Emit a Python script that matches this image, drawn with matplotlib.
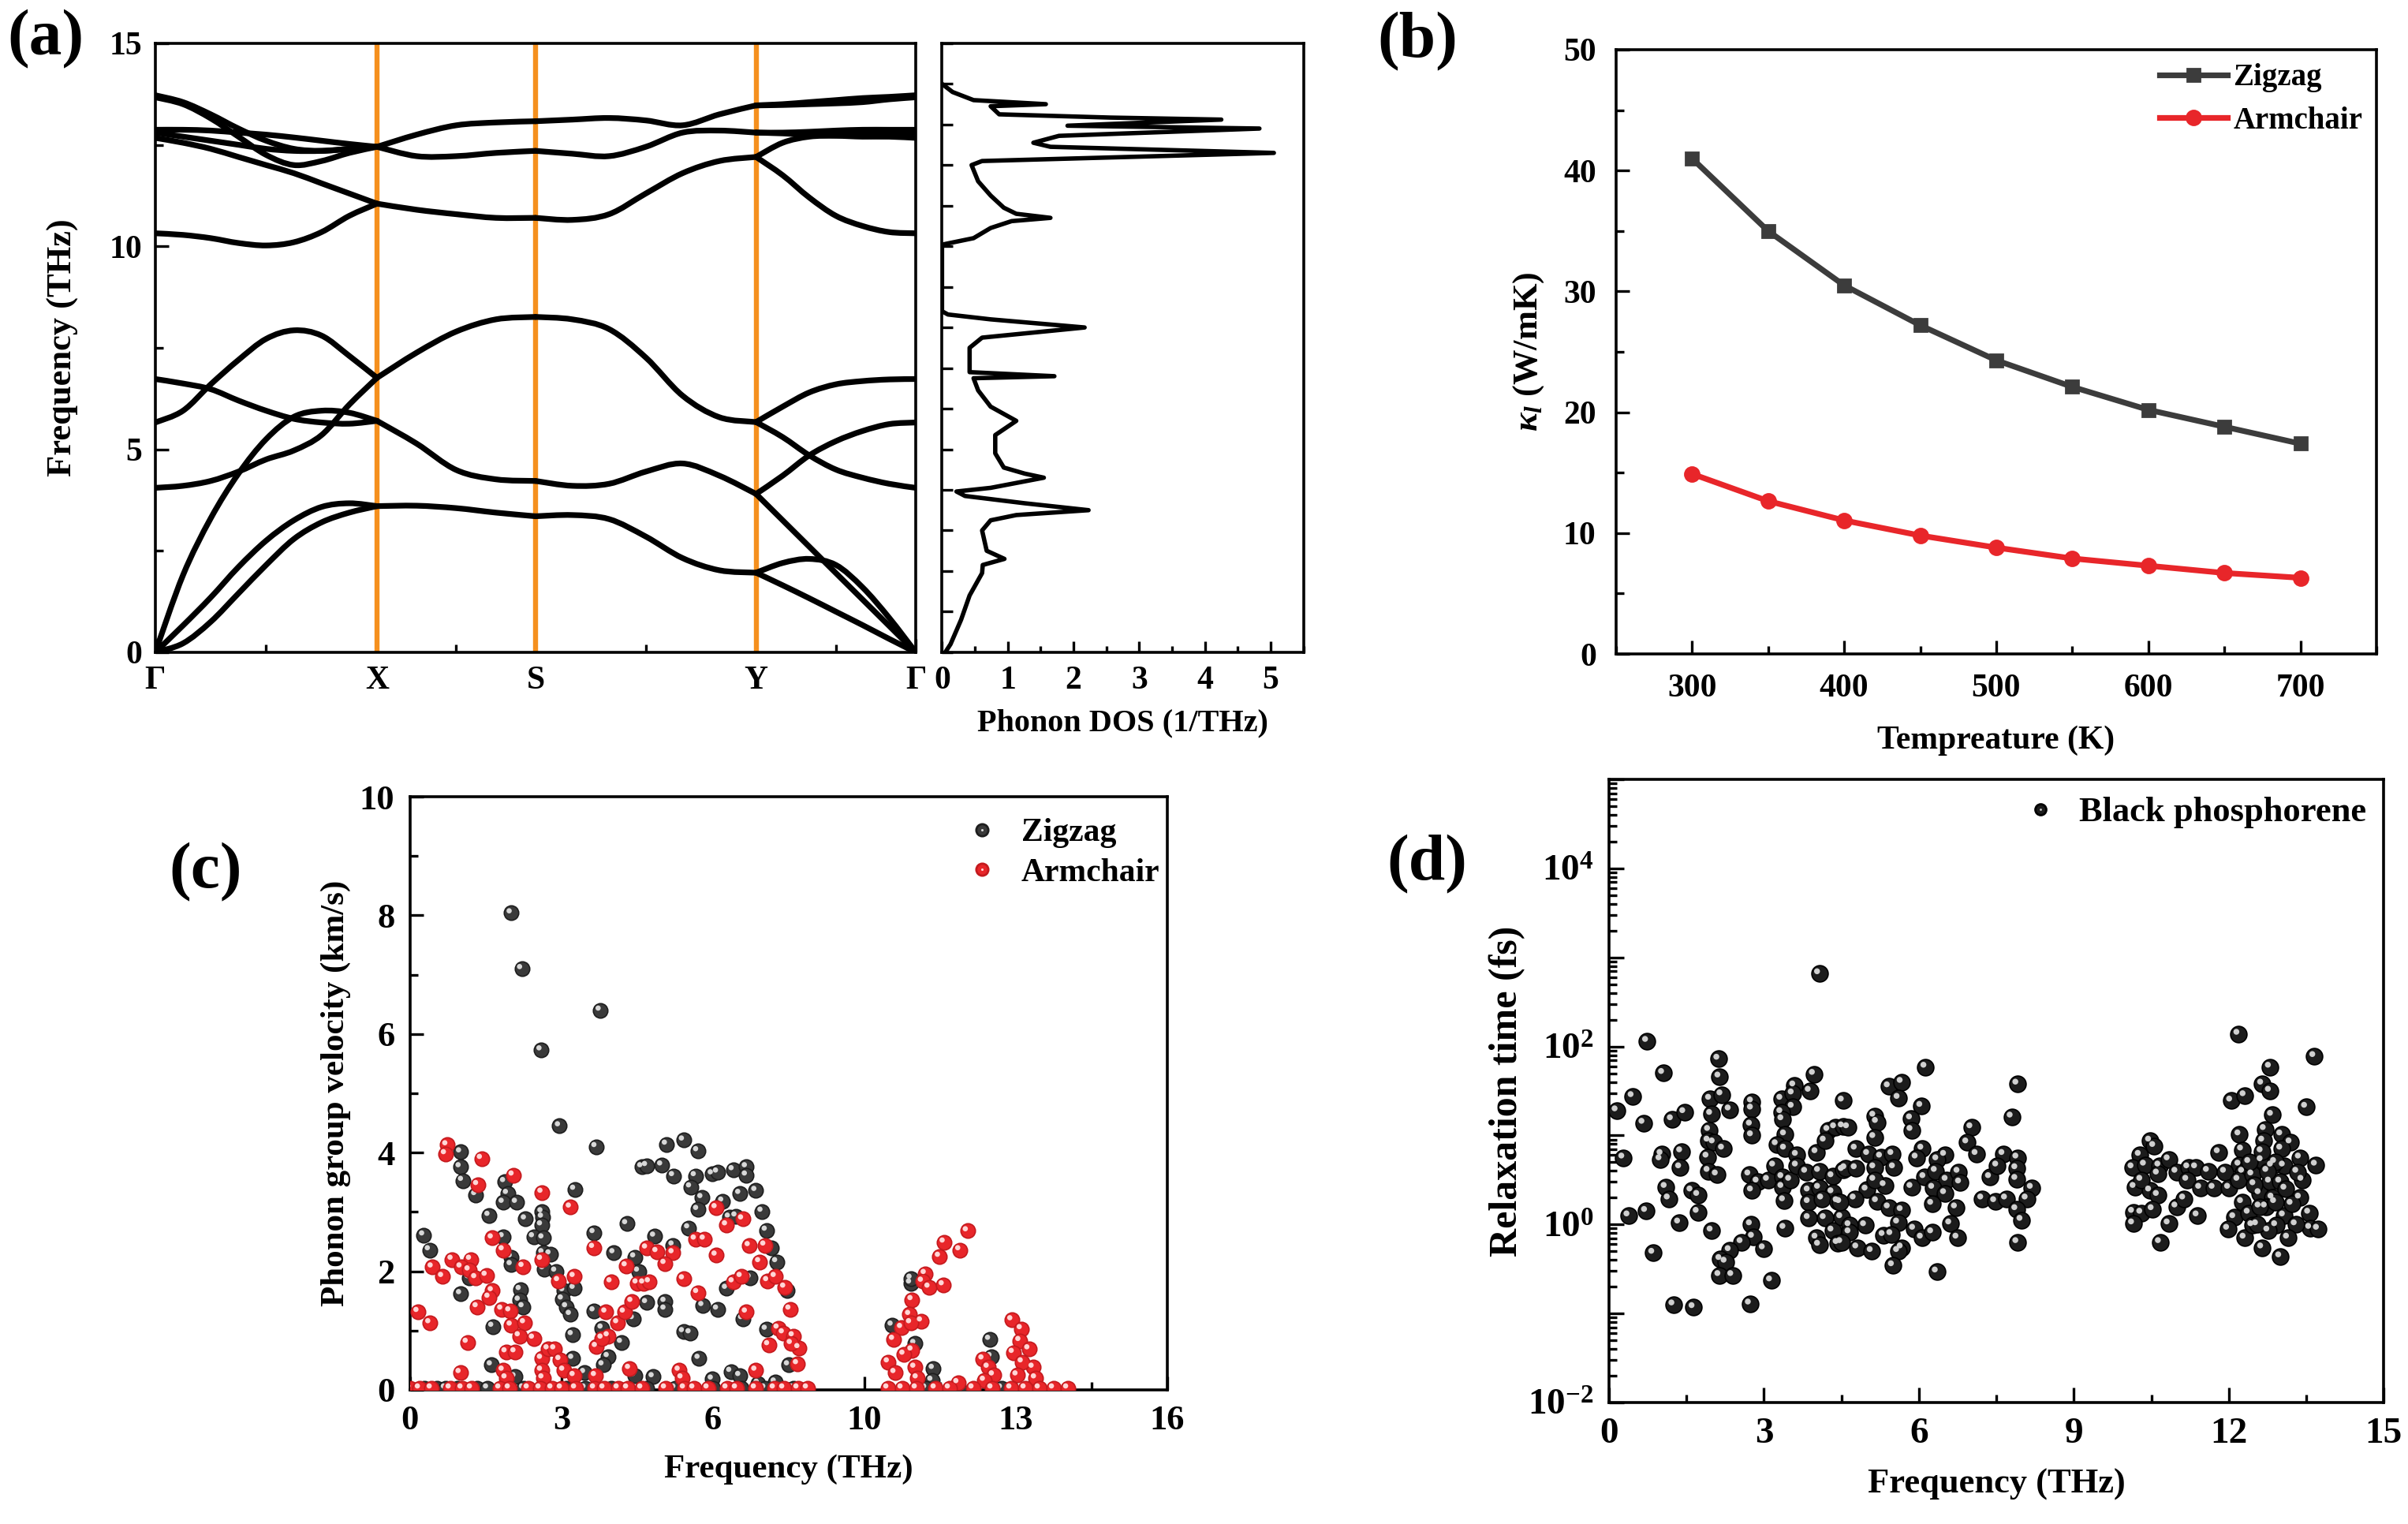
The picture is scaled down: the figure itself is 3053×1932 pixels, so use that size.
import numpy as np
import matplotlib
matplotlib.use("Agg")
import matplotlib.pyplot as plt
from matplotlib.path import Path
from matplotlib.patches import PathPatch
from matplotlib.lines import Line2D
from matplotlib.ticker import MultipleLocator, FixedLocator, FuncFormatter, LogLocator, NullFormatter
from matplotlib.transforms import offset_copy
from matplotlib.legend_handler import HandlerTuple

plt.rcParams['font.family'] = ['Liberation Serif', 'DejaVu Serif']
plt.rcParams['font.weight'] = 'bold'
plt.rcParams['axes.labelweight'] = 'bold'
plt.rcParams['mathtext.fontset'] = 'custom'
plt.rcParams['mathtext.rm'] = 'Liberation Serif:bold'
plt.rcParams['mathtext.it'] = 'Liberation Serif:italic:bold'
plt.rcParams['mathtext.bf'] = 'Liberation Serif:bold'
plt.rcParams['axes.linewidth'] = 1.3

# ---------------- (a) phonon band structure ----------------
kpath_labels = ['Γ', 'X', 'S', 'Y', 'Γ']
kpath_nodes = [0.0, 0.2915, 0.5, 0.79, 1.0]

bands_GX = [
    [0, 0.22, 0.75, 1.45, 2.15, 2.79, 3.2, 3.44, 3.6],
    [0, 0.66, 1.35, 2.1, 2.75, 3.25, 3.58, 3.67, 3.6],
    [0, 1.9, 3.3, 4.4, 5.25, 5.8, 5.95, 5.9, 5.7],
    [4.05, 4.1, 4.22, 4.45, 4.75, 4.97, 5.35, 6.1, 6.76],
    [5.66, 5.95, 6.6, 7.2, 7.72, 7.93, 7.8, 7.3, 6.76],
    [6.73, 6.62, 6.48, 6.2, 5.95, 5.75, 5.66, 5.63, 5.7],
    [10.32, 10.28, 10.2, 10.08, 10.02, 10.1, 10.35, 10.75, 11.05],
    [12.67, 12.55, 12.4, 12.2, 12.0, 11.8, 11.55, 11.3, 11.05],
    [12.87, 12.87, 12.85, 12.8, 12.75, 12.68, 12.6, 12.52, 12.45],
    [13.67, 13.5, 13.15, 12.7, 12.25, 12.0, 12.1, 12.3, 12.45],
    [13.72, 13.55, 13.25, 12.9, 12.6, 12.4, 12.35, 12.4, 12.45],
    [12.8, 12.7, 12.6, 12.5, 12.4, 12.35, 12.35, 12.4, 12.45],
]
bands_XS = [
    [3.6, 3.61, 3.55, 3.44, 3.35],
    [5.7, 5.14, 4.49, 4.26, 4.22],
    [6.76, 7.38, 7.9, 8.2, 8.26],
    [11.05, 10.9, 10.79, 10.7, 10.7],
    [12.45, 12.22, 12.22, 12.3, 12.35],
    [12.45, 12.75, 12.98, 13.05, 13.08],
]
bands_SY = [
    [3.35, 3.38, 3.28, 2.85, 2.32, 2.02, 1.96],
    [4.22, 4.1, 4.15, 4.45, 4.65, 4.35, 3.9],
    [8.26, 8.2, 7.96, 7.26, 6.32, 5.79, 5.67],
    [10.7, 10.65, 10.79, 11.3, 11.8, 12.1, 12.2],
    [12.35, 12.28, 12.22, 12.45, 12.8, 12.85, 12.8],
    [13.08, 13.12, 13.16, 13.1, 12.98, 13.25, 13.47],
]
bands_YG = [
    [1.96, 1.65, 1.33, 1.0, 0.67, 0.33, 0],
    [1.96, 2.2, 2.3, 2.15, 1.6, 0.85, 0],
    [3.9, 3.25, 2.6, 1.95, 1.3, 0.65, 0],
    [3.9, 4.35, 4.85, 5.2, 5.45, 5.62, 5.66],
    [5.67, 5.3, 4.85, 4.5, 4.3, 4.15, 4.05],
    [5.67, 6.05, 6.4, 6.6, 6.68, 6.72, 6.73],
    [12.2, 11.75, 11.2, 10.75, 10.5, 10.35, 10.32],
    [12.2, 12.55, 12.7, 12.72, 12.7, 12.7, 12.67],
    [12.8, 12.8, 12.82, 12.85, 12.87, 12.87, 12.87],
    [12.8, 12.78, 12.75, 12.75, 12.75, 12.8, 12.8],
    [13.47, 13.5, 13.55, 13.6, 13.65, 13.68, 13.72],
    [13.47, 13.48, 13.5, 13.52, 13.55, 13.62, 13.67],
]
band_segments = [bands_GX, bands_XS, bands_SY, bands_YG]

dos_freq = [0.0, 0.2, 0.8, 1.4, 1.95, 2.15, 2.3, 2.5, 3.0, 3.25, 3.38, 3.5, 3.67, 3.85, 3.96,
            4.05, 4.3, 4.4, 4.55, 4.9, 5.35, 5.7, 6.05, 6.45, 6.75, 6.8, 6.9, 7.5, 7.75, 8.0,
            8.2, 8.32, 8.4, 10.0, 10.05, 10.2, 10.45, 10.62, 10.7, 10.8, 10.95, 11.25, 11.6,
            12.0, 12.1, 12.3, 12.45, 12.55, 12.72, 12.9, 12.97, 13.12, 13.17, 13.25, 13.45,
            13.5, 13.6, 13.8, 14.0]
dos_value = [0.05, 0.13, 0.29, 0.42, 0.61, 0.62, 0.95, 0.68, 0.61, 0.74, 1.13, 2.23, 1.26, 0.35,
             0.22, 0.74, 1.55, 1.26, 0.94, 0.81, 0.81, 1.13, 0.74, 0.55, 0.48, 1.71, 0.42, 0.42,
             0.61, 2.17, 0.74, 0.09, 0.0, 0.0, 0.03, 0.48, 0.74, 1.06, 1.65, 1.13, 0.94, 0.74,
             0.55, 0.45, 0.61, 5.05, 1.65, 1.39, 1.78, 4.83, 1.91, 4.25, 2.56, 0.87, 0.74, 1.58,
             0.48, 0.16, 0.0]

# ---------------- (b) lattice thermal conductivity ----------------
temperature = [300, 350, 400, 450, 500, 550, 600, 650, 700]
kappa_zigzag = [41.0, 35.0, 30.5, 27.2, 24.3, 22.1, 20.2, 18.8, 17.4]
kappa_armchair = [14.9, 12.65, 11.05, 9.8, 8.8, 7.9, 7.3, 6.7, 6.3]

# ---------------- (c) group velocity ----------------
zigzag_vg = [
    (2.14, 8.04), (2.36, 7.10), (2.77, 5.73), (4.02, 6.40), (3.16, 4.45), (3.93, 4.10),
    (1.07, 4.01), (1.06, 3.76), (1.11, 3.53), (1.39, 3.29), (2.0, 3.51), (2.06, 3.31),
    (1.97, 3.16), (2.25, 3.16), (3.48, 3.38), (1.67, 2.94), (2.44, 2.88), (2.79, 3.0),
    (2.8, 2.91), (2.78, 2.78), (2.61, 2.58), (2.81, 2.56), (3.89, 2.65), (4.58, 2.80),
    (0.29, 2.61), (0.41, 2.36), (1.97, 2.58), (2.14, 2.24), (2.14, 2.11), (2.81, 2.31),
    (2.96, 2.29), (2.83, 2.04), (3.08, 2.0), (1.25, 1.89), (4.31, 2.31), (4.75, 2.24),
    (4.83, 2.0), (2.33, 1.69), (2.31, 1.51), (2.39, 1.40), (3.25, 1.67), (3.22, 1.53),
    (3.31, 1.40), (3.39, 1.27), (3.47, 1.71), (1.07, 1.62), (3.89, 1.33), (4.06, 1.04),
    (1.75, 1.07), (3.43, 0.93), (4.47, 0.80), (4.19, 0.56), (4.08, 0.42), (4.72, 1.2),
    (1.72, 0.42), (3.44, 0.53), (2.22, 0.22), (3.69, 0.29), (4.75, 0.24), (4.9, 3.76),
    (5.42, 4.14), (5.78, 4.21), (6.08, 4.03), (5.0, 3.78), (5.32, 3.79), (5.57, 3.61),
    (6.03, 3.61), (5.93, 3.42), (6.39, 3.64), (6.5, 3.67), (6.83, 3.71), (7.11, 3.76),
    (7.11, 3.62), (6.17, 3.24), (6.08, 3.04), (6.61, 3.18), (6.97, 3.31), (7.31, 3.36),
    (7.44, 3.01), (6.75, 2.91), (6.89, 2.93), (7.53, 2.69), (5.17, 2.59), (5.56, 2.44),
    (5.89, 2.73), (7.64, 2.4), (7.75, 2.16), (7.19, 1.89), (6.69, 1.71), (5.0, 1.47),
    (5.39, 1.49), (5.39, 1.36), (6.19, 1.42), (6.5, 1.36), (7.97, 1.67), (7.03, 1.2),
    (7.53, 1.02), (5.78, 0.98), (5.92, 0.96), (6.11, 0.53), (8.0, 0.42), (6.78, 0.31),
    (6.97, 0.24), (5.14, 0.22), (6.39, 0.18), (7.72, 0.13), (7.36, 0.11),
    (10.58, 1.8), (10.59, 1.88), (10.19, 1.09), (10.67, 0.78), (11.06, 0.36), (11.03, 0.16),
    (12.25, 0.85), (12.28, 0.56),
    (0.3, 0.03), (0.56, 0.03), (0.75, 0.03), (1.0, 0.03), (1.42, 0.03), (1.64, 0.03),
    (2.4, 0.03), (3.3, 0.03), (3.7, 0.03), (4.25, 0.03), (5.0, 0.03), (5.6, 0.03),
    (6.4, 0.03), (7.0, 0.03), (7.5, 0.03), (8.1, 0.03), (10.9, 0.03), (11.6, 0.03),
    (12.5, 0.03), (13.1, 0.03),
]
armchair_vg = [
    (0.78, 4.13), (0.75, 3.98), (1.51, 3.90), (2.18, 3.62), (1.43, 3.46), (2.79, 3.33),
    (3.39, 3.08), (1.74, 2.56), (1.97, 2.36), (3.88, 2.4), (0.89, 2.2), (1.28, 2.2),
    (0.47, 2.07), (0.69, 1.91), (1.08, 2.07), (1.25, 2.02), (1.39, 1.89), (1.61, 1.93),
    (2.39, 2.08), (2.78, 2.2), (3.14, 1.84), (3.47, 1.91), (4.25, 1.82), (4.57, 2.09),
    (4.8, 1.8), (1.74, 1.67), (1.67, 1.56), (0.17, 1.32), (0.42, 1.13), (1.42, 1.40),
    (1.94, 1.36), (2.11, 1.33), (2.14, 1.09), (2.42, 1.13), (2.31, 0.91), (2.61, 0.87),
    (1.21, 0.80), (2.03, 0.64), (2.22, 0.64), (2.78, 0.53), (2.92, 0.69), (3.06, 0.69),
    (3.17, 0.51), (2.78, 0.33), (2.81, 0.2), (1.97, 0.33), (2.03, 0.2), (1.06, 0.29),
    (3.25, 0.33), (3.47, 0.24), (3.94, 0.73), (4.19, 0.91), (4.06, 0.87), (4.14, 1.31),
    (4.39, 1.13), (4.53, 1.31), (4.69, 1.49), (4.64, 0.36), (3.92, 0.24),
    (6.47, 3.07), (6.69, 2.78), (7.03, 2.88), (6.03, 2.54), (6.22, 2.54), (7.17, 2.43),
    (7.5, 2.44), (5.0, 2.39), (5.22, 2.33), (5.56, 2.31), (5.39, 2.13), (6.47, 2.27),
    (7.39, 2.16), (4.94, 1.8), (5.06, 1.82), (5.78, 1.87), (6.08, 1.64), (6.83, 1.82),
    (7.0, 1.91), (7.56, 1.84), (7.72, 1.91), (7.92, 1.73), (7.11, 1.31), (8.03, 1.36),
    (7.78, 1.04), (7.89, 0.96), (8.1, 0.91), (8.22, 0.71), (7.58, 0.76), (8.06, 0.78),
    (8.19, 0.44), (7.31, 0.33), (5.69, 0.33), (5.75, 0.2),
    (11.78, 2.68), (11.29, 2.49), (11.62, 2.36), (11.19, 2.25), (10.89, 1.96), (10.83, 1.83),
    (10.97, 1.73), (11.27, 1.77), (10.61, 1.52), (10.56, 1.27), (10.81, 1.16), (10.39, 1.05),
    (10.58, 1.13), (10.22, 0.85), (10.61, 0.67), (10.11, 0.47), (10.25, 0.29), (10.44, 0.6),
    (10.67, 0.38), (10.72, 0.2), (11.58, 0.12), (12.11, 0.52), (12.22, 0.38), (12.33, 0.25),
    (12.14, 0.16), (12.72, 1.18), (12.92, 1.03), (12.89, 0.83), (13.08, 0.69), (12.75, 0.63),
    (13.17, 0.38), (12.94, 0.47), (12.83, 0.25), (13.22, 0.2),
    (0.0, 0.03), (0.2, 0.03), (0.45, 0.03), (0.85, 0.03), (1.1, 0.03), (1.3, 0.03),
    (1.9, 0.03), (2.1, 0.03), (2.5, 0.03), (2.75, 0.03), (3.0, 0.03), (3.2, 0.03),
    (3.5, 0.03), (3.9, 0.03), (4.1, 0.03), (4.4, 0.03), (4.6, 0.03), (4.9, 0.03),
    (5.4, 0.03), (5.8, 0.03), (6.0, 0.03), (6.3, 0.03), (6.7, 0.03), (6.9, 0.03),
    (7.3, 0.03), (7.7, 0.03), (7.9, 0.03), (8.2, 0.03), (8.4, 0.03), (10.1, 0.03),
    (10.4, 0.03), (10.7, 0.03), (11.1, 0.03), (11.4, 0.03), (11.9, 0.03), (12.3, 0.03),
    (12.7, 0.03), (13.0, 0.03), (13.3, 0.03), (13.6, 0.03), (13.9, 0.03),
]
c_xtick_labels = ['0', '3', '6', '10', '13', '16']

# ---------------- (d) relaxation time (frequency THz, log10 of tau in fs) ----------------
relax_points = [
    (4.07, 2.82), (0.74, 2.06), (2.12, 1.86), (1.05, 1.70), (2.14, 1.66), (3.97, 1.69),
    (0.46, 1.44), (0.15, 1.28), (1.96, 1.41), (2.18, 1.46), (2.34, 1.29), (1.98, 1.24),
    (2.77, 1.38), (2.77, 1.30), (3.59, 1.56), (3.89, 1.50), (3.34, 1.41), (3.56, 1.47),
    (3.56, 1.32), (3.34, 1.26), (4.53, 1.39), (0.67, 1.14), (1.22, 1.18), (1.46, 1.26),
    (1.94, 1.06), (1.93, 0.94), (2.03, 0.92), (2.21, 0.85), (2.75, 1.12), (2.77, 1.00),
    (3.36, 1.18), (3.41, 1.01), (3.25, 0.90), (3.41, 0.85), (3.64, 0.78), (4.02, 0.81),
    (4.25, 1.06), (4.38, 1.09), (4.53, 1.10), (4.18, 0.94), (0.28, 0.75), (1.02, 0.79),
    (1.00, 0.73), (1.40, 0.82), (1.38, 0.64), (1.91, 0.76), (1.93, 0.60), (2.09, 0.56),
    (2.72, 0.56), (2.88, 0.48), (3.08, 0.50), (3.20, 0.66), (3.36, 0.53), (3.36, 0.42),
    (3.51, 0.50), (3.64, 0.66), (2.77, 0.38), (3.39, 0.27), (1.10, 0.42), (1.16, 0.29),
    (1.60, 0.38), (1.73, 0.33), (0.38, 0.10), (0.72, 0.15), (1.36, 0.02), (1.72, 0.14),
    (1.99, -0.07), (2.75, 0.00), (3.40, -0.04), (3.82, 0.59), (4.07, 0.60), (4.33, 0.54),
    (3.87, 0.38), (4.07, 0.41), (4.33, 0.36), (3.87, 0.25), (4.13, 0.29), (4.43, 0.26),
    (3.87, 0.07), (4.18, 0.07), (4.33, -0.07), (4.02, -0.15), (4.07, -0.23), (4.43, -0.21),
    (4.53, 0.61), (4.50, 0.08), (2.79, -0.14), (2.57, -0.20), (2.34, -0.29), (2.16, -0.39),
    (2.26, -0.42), (3.00, -0.27), (2.14, -0.57), (2.39, -0.57), (0.86, -0.32), (3.14, -0.63),
    (1.25, -0.90), (1.64, -0.93), (2.73, -0.89),
    (6.13, 1.77), (5.42, 1.55), (5.67, 1.60), (5.61, 1.42), (6.05, 1.33), (7.91, 1.58),
    (7.80, 1.21), (5.14, 1.22), (5.19, 1.15), (5.85, 1.19), (5.86, 1.06), (5.14, 0.98),
    (4.63, 1.09), (7.02, 1.09), (6.94, 0.92), (7.12, 0.79), (4.78, 0.85), (5.02, 0.79),
    (5.27, 0.76), (5.49, 0.79), (5.52, 0.64), (6.07, 0.85), (5.96, 0.75), (6.51, 0.78),
    (6.36, 0.73), (7.64, 0.79), (7.91, 0.75), (4.58, 0.63), (4.78, 0.63), (5.14, 0.64),
    (5.34, 0.44), (4.99, 0.39), (4.76, 0.29), (4.48, 0.25), (5.14, 0.50), (5.86, 0.42),
    (6.11, 0.53), (6.33, 0.60), (6.54, 0.50), (6.77, 0.59), (6.80, 0.47), (6.28, 0.41),
    (6.51, 0.35), (6.26, 0.23), (6.72, 0.19), (7.38, 0.53), (7.52, 0.66), (7.89, 0.63),
    (7.89, 0.51), (8.19, 0.41), (8.09, 0.29), (7.23, 0.29), (7.48, 0.26), (7.69, 0.29),
    (7.89, 0.17), (7.99, 0.05), (5.19, 0.26), (5.42, 0.19), (5.67, 0.16), (5.60, 0.02),
    (5.91, -0.05), (6.06, -0.15), (6.26, -0.09), (6.61, 0.01), (6.75, -0.15), (5.32, -0.12),
    (5.47, -0.11), (4.96, -0.01), (4.66, -0.01), (4.66, -0.09), (4.50, -0.20), (4.81, -0.26),
    (5.09, -0.30), (5.67, -0.26), (5.60, -0.30), (5.50, -0.46), (6.35, -0.53), (7.91, -0.20),
    (12.19, 2.14), (13.66, 1.89), (12.80, 1.77), (12.65, 1.58), (12.80, 1.50), (12.05, 1.39),
    (12.31, 1.45), (13.50, 1.32), (12.84, 1.23), (10.48, 0.94), (10.56, 0.88), (10.28, 0.78),
    (11.81, 0.81), (12.21, 1.01), (12.26, 0.84), (12.70, 1.07), (12.67, 0.94), (13.02, 1.01),
    (13.20, 0.92), (13.02, 0.85), (13.38, 0.75), (13.69, 0.67), (13.07, 0.66), (12.84, 0.66),
    (12.64, 0.72), (12.21, 0.67), (12.28, 0.59), (10.14, 0.64), (10.38, 0.67), (10.66, 0.66),
    (10.84, 0.73), (10.99, 0.59), (11.22, 0.64), (11.37, 0.64), (11.60, 0.60), (11.20, 0.50),
    (11.45, 0.41), (11.71, 0.41), (11.93, 0.59), (12.01, 0.41), (12.19, 0.50), (10.63, 0.57),
    (10.18, 0.42), (10.48, 0.38), (10.31, 0.50), (10.63, 0.33), (10.99, 0.20), (11.14, 0.29),
    (10.15, 0.14), (10.31, 0.13), (10.15, 0.01), (10.53, 0.17), (10.84, 0.01), (11.40, 0.10),
    (10.67, -0.20), (12.26, 0.25), (12.11, 0.08), (11.99, -0.05), (12.31, -0.15), (12.39, 0.13),
    (12.60, 0.35), (12.80, 0.48), (13.00, 0.48), (12.85, 0.30), (13.07, 0.10), (12.92, -0.01),
    (12.65, -0.26), (12.77, -0.07), (13.00, -0.36), (13.38, 0.30), (13.43, 0.50), (13.56, 0.13),
    (13.58, -0.04), (13.73, -0.05), (12.46, -0.01), (12.72, 0.20), (13.22, 0.23), (12.64, 0.82),
    (13.33, 0.59), (12.46, 0.56), (12.50, 0.45), (12.90, 0.70), (13.10, 0.40), (12.40, 0.70),
    (12.60, 0.20), (13.30, 0.00), (12.90, 0.25), (12.55, 0.00), (13.15, -0.15), (12.75, 0.60),
]

# ======================= drawing =======================
fig = plt.figure(figsize=(15.265, 9.66), dpi=200)


def smooth_path(x, y):
    pts = np.column_stack([x, y])
    P = np.vstack([pts[0], pts, pts[-1]])
    verts = [pts[0]]
    codes = [Path.MOVETO]
    for i in range(1, len(P) - 2):
        p0, p1, p2, p3 = P[i - 1], P[i], P[i + 1], P[i + 2]
        verts += [p1 + (p2 - p0) / 6.0, p2 - (p3 - p1) / 6.0, p2]
        codes += [Path.CURVE4] * 3
    return Path(verts, codes)


def style_ticks(ax, size, major=6, minor=3.5, pad=4):
    ax.tick_params(which='both', direction='in', width=1.2, labelsize=size, pad=pad,
                   top=False, right=False)
    ax.tick_params(which='major', length=major)
    ax.tick_params(which='minor', length=minor)


def spheres(ax, x, y, face, edge, hi, s=44, zorder=3):
    ax.scatter(x, y, s=s, c=face, edgecolors=edge, linewidths=0.6, zorder=zorder)
    tr = offset_copy(ax.transData, fig=fig, x=-1.0, y=1.0, units='points')
    ax.scatter(x, y, s=s * 0.13, c=hi, edgecolors='none', transform=tr, zorder=zorder + 0.1)


def sphere_handle(face, edge, hi, ms):
    return (Line2D([], [], ls='none', marker='o', ms=ms, mfc=face, mec=edge),
            Line2D([], [], ls='none', marker='o', ms=ms * 0.2, mfc=hi, mec='none'))


# ---- (a) bands ----
axA = fig.add_axes([0.0645, 0.572, 0.3158, 0.3996])
for seg_i, seg in enumerate(band_segments):
    k0, k1 = kpath_nodes[seg_i], kpath_nodes[seg_i + 1]
    for band in seg:
        kk = np.linspace(k0, k1, len(band))
        axA.add_patch(PathPatch(smooth_path(kk, band), fill=False, lw=2.6,
                                edgecolor='black', zorder=3, capstyle='round'))
for kn in kpath_nodes[1:-1]:
    axA.axvline(kn, color='#f5901e', lw=2.3, zorder=2)
axA.set_xlim(0, 1)
axA.set_ylim(0, 15)
axA.set_xticks(kpath_nodes)
axA.set_xticklabels(kpath_labels)
mids = [(kpath_nodes[i] + kpath_nodes[i + 1]) / 2 for i in range(4)]
axA.xaxis.set_minor_locator(FixedLocator(mids))
axA.yaxis.set_major_locator(MultipleLocator(5))
axA.yaxis.set_minor_locator(MultipleLocator(2.5))
style_ticks(axA, 15, pad=6)
axA.set_ylabel('Frequency (THz)', fontsize=16, labelpad=14)

axD = fig.add_axes([0.3912, 0.572, 0.1501, 0.3996])
axD.plot(dos_value, dos_freq, color='black', lw=2.0, zorder=3)
axD.set_xlim(0, 5.5)
axD.set_ylim(0, 15)
axD.xaxis.set_major_locator(MultipleLocator(1))
axD.xaxis.set_minor_locator(MultipleLocator(0.5))
axD.yaxis.set_major_locator(MultipleLocator(1))
axD.yaxis.set_major_formatter(NullFormatter())
style_ticks(axD, 15, major=5, minor=3, pad=6)
axD.set_xlabel('Phonon DOS (1/THz)', fontsize=14.5, labelpad=6)

# ---- (b) kappa ----
axB = fig.add_axes([0.6711, 0.5709, 0.3158, 0.3965])
axB.plot(temperature, kappa_zigzag, color='#3c3c3c', lw=2.6, marker='s', ms=6,
         label='Zigzag', zorder=3)
axB.plot(temperature, kappa_armchair, color='#e8262a', lw=2.6, marker='o', ms=6.5,
         label='Armchair', zorder=3)
axB.set_xlim(250, 750)
axB.set_ylim(0, 50)
axB.xaxis.set_major_locator(MultipleLocator(100))
axB.xaxis.set_minor_locator(MultipleLocator(50))
axB.yaxis.set_major_locator(MultipleLocator(10))
axB.yaxis.set_minor_locator(MultipleLocator(5))
style_ticks(axB, 15, pad=9)
axB.set_xlabel('Tempreature (K)', fontsize=15, labelpad=10)
axB.set_ylabel(r'$\kappa_l$ (W/mK)', fontsize=16, labelpad=8)
axB.legend(loc='upper right', frameon=False, fontsize=14, handlelength=2.2,
           handletextpad=0.2, labelspacing=0.45, borderaxespad=0.05)

# ---- (c) group velocity ----
axC = fig.add_axes([0.1703, 0.0880, 0.3144, 0.3892])
zf, zv = np.array(zigzag_vg).T
af, av = np.array(armchair_vg).T
spheres(axC, zf, zv, '#3a3a3a', '#1e1e1e', '#d8d8d8', zorder=3)
spheres(axC, af, av, '#e8262a', '#c41a1e', '#ffd6d6', zorder=4)
axC.set_xlim(0, 16)
axC.set_ylim(0, 10)
axC.xaxis.set_major_locator(MultipleLocator(3.2))
axC.xaxis.set_minor_locator(MultipleLocator(1.6))
axC.xaxis.set_major_formatter(FuncFormatter(
    lambda v, p: c_xtick_labels[int(round(v / 3.2))] if 0 <= int(round(v / 3.2)) < len(c_xtick_labels) else ''))
axC.yaxis.set_major_locator(MultipleLocator(2))
axC.yaxis.set_minor_locator(MultipleLocator(1))
style_ticks(axC, 16, pad=7)
axC.set_xlabel('Frequency (THz)', fontsize=15.5, labelpad=8)
axC.set_ylabel('Phonon group velocity (km/s)', fontsize=15.5, labelpad=4)
axC.legend([sphere_handle('#3a3a3a', '#1e1e1e', '#d8d8d8', 5.5),
            sphere_handle('#e8262a', '#c41a1e', '#ffd6d6', 5.5)],
           ['Zigzag', 'Armchair'], handler_map={tuple: HandlerTuple(ndivide=1, pad=0)},
           loc='upper left', bbox_to_anchor=(0.705, 1.0), frameon=False, fontsize=15,
           handlelength=1.0, handletextpad=0.7, labelspacing=0.3, borderaxespad=0.25)

# ---- (d) relaxation time ----
axR = fig.add_axes([0.6682, 0.0797, 0.3217, 0.4089])
rf, rl = np.array(relax_points).T
spheres(axR, rf, 10.0 ** rl, '#1c1c1c', '#000000', '#d0d0d0', s=56, zorder=3)
axR.set_yscale('log')
axR.set_xlim(0, 15)
axR.set_ylim(1e-2, 1e5)
axR.xaxis.set_major_locator(MultipleLocator(3))
axR.xaxis.set_minor_locator(MultipleLocator(1.5))
axR.yaxis.set_major_locator(LogLocator(base=10, numticks=20))
axR.yaxis.set_minor_locator(LogLocator(base=10, subs=np.arange(2, 10), numticks=20))
axR.yaxis.set_minor_formatter(NullFormatter())
axR.yaxis.set_major_formatter(FuncFormatter(
    lambda v, p: (r'$10^{%d}$' % int(round(np.log10(v)))) if int(round(np.log10(v))) % 2 == 0 else ''))
style_ticks(axR, 17, major=7, minor=3.5, pad=7)
axR.set_xlabel('Frequency (THz)', fontsize=16, labelpad=8)
axR.set_ylabel('Relaxation time (fs)', fontsize=18, labelpad=1)
axR.legend([sphere_handle('#1c1c1c', '#000000', '#d0d0d0', 5.0)], ['Black phosphorene'],
           handler_map={tuple: HandlerTuple(ndivide=1, pad=0)},
           loc='upper right', frameon=False, fontsize=16, handlelength=1.0,
           handletextpad=0.6, borderaxespad=0.1)

# panel letters
for lab, x, y in [('(a)', 0.003, 0.974), ('(b)', 0.572, 0.9726),
                  ('(c)', 0.0701, 0.4275), ('(d)', 0.5758, 0.4327)]:
    fig.text(x, y, lab, fontsize=30, fontweight='bold', ha='left', va='center')

fig.savefig('out.png', dpi=200)
